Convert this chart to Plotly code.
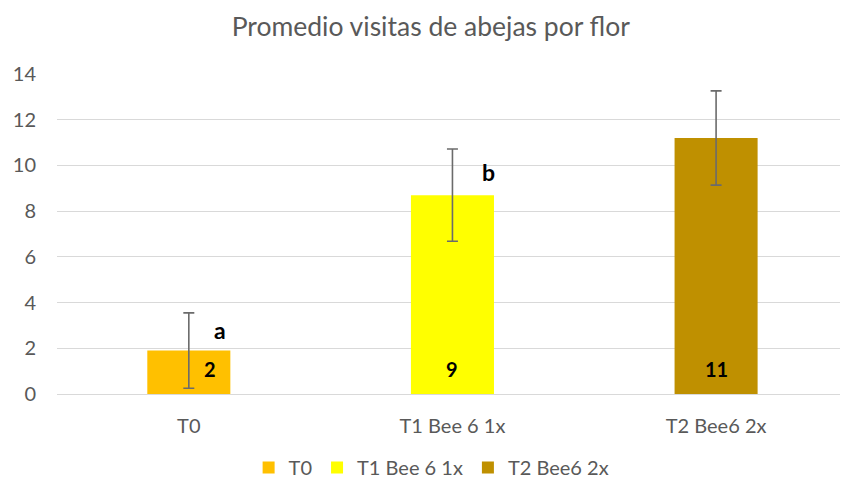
import plotly.graph_objects as go

categories = ["T0", "T1 Bee 6 1x", "T2 Bee6 2x"]
means = [1.9, 8.7, 11.2]
errors = [1.65, 2.02, 2.06]
value_labels = ["2", "9", "11"]
letters = ["a", "b", ""]
colors = ["#FFC000", "#FFFF00", "#BF9000"]

FONT = "Lato"
GRAY = "#595959"

fig = go.Figure()
for i, cat in enumerate(categories):
    fig.add_trace(go.Bar(
        x=[i], y=[means[i]], name=cat, width=0.315,
        marker=dict(color=colors[i], line=dict(width=0)),
        error_y=dict(type="data", array=[errors[i]], visible=True,
                     color="#6B6B6B", thickness=1.6, width=5.5),
    ))

label_dx = [0.08, 0.0, 0.0]
for i, t in enumerate(value_labels):
    fig.add_annotation(x=i + label_dx[i], y=1.1, text="<b>%s</b>" % t, showarrow=False,
                       font=dict(family=FONT, size=20, color="black"))

letter_pos = [(0.118, 2.8), (1.137, 9.7)]
for i, t in enumerate(letters):
    if t:
        fig.add_annotation(x=letter_pos[i][0], y=letter_pos[i][1], text="<b>%s</b>" % t,
                           showarrow=False, font=dict(family=FONT, size=23, color="black"))

fig.update_layout(
    width=843, height=487,
    paper_bgcolor="white", plot_bgcolor="white",
    barmode="overlay",
    font=dict(family=FONT, color=GRAY, size=20),
    title=dict(text="Promedio visitas de abejas por flor", x=0.511, xanchor="center",
               y=0.946, yanchor="middle", font=dict(family=FONT, size=26.5, color=GRAY)),
    margin=dict(l=57, r=3, t=74, b=93),
    xaxis=dict(range=[-0.5, 2.47], tickvals=[0, 1, 2], ticktext=categories,
               showgrid=False, zeroline=False, showline=False, ticks="",
               ticklabelstandoff=18, automargin=False,
               tickfont=dict(family=FONT, size=20, color=GRAY), fixedrange=True),
    yaxis=dict(range=[0, 14], dtick=2, showgrid=True, gridcolor="#D9D9D9", gridwidth=1.3,
               zeroline=True, zerolinecolor="#D9D9D9", zerolinewidth=1.3,
               showline=False, ticks="", ticklabelstandoff=20, automargin=False,
               tickfont=dict(family=FONT, size=20, color=GRAY), fixedrange=True),
    legend=dict(orientation="h", xref="container", yref="container",
                x=0.512, xanchor="center", y=0.0, yanchor="bottom",
                font=dict(family=FONT, size=20, color=GRAY), itemclick=False),
    showlegend=True,
)

fig.write_html("out.html", config={"displayModeBar": False},
               post_script="document.body.style.margin='0';document.body.style.padding='0';")
